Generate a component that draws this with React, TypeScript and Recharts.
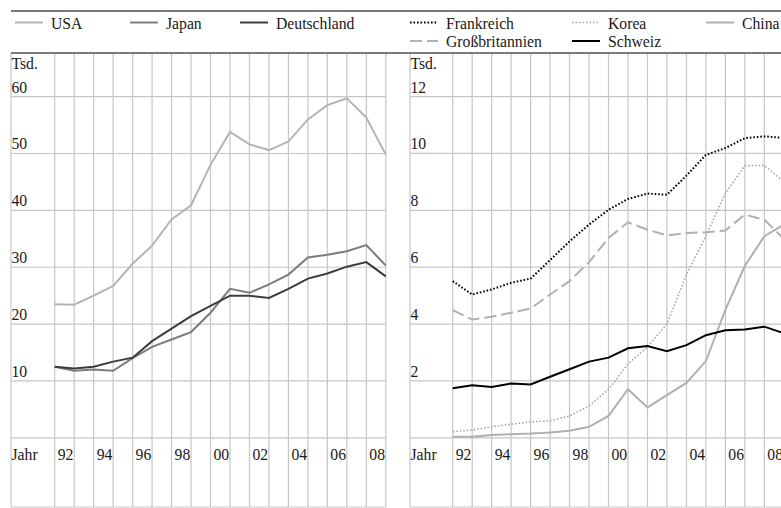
import { LineChart, Line, XAxis, YAxis, CartesianGrid } from "recharts";

// Jahre (letzter Punkt am rechten Rand)
const years = [1992, 1993, 1994, 1995, 1996, 1997, 1998, 1999, 2000, 2001, 2002, 2003, 2004, 2005, 2006, 2007, 2008, 2009];
const gridYears = [1992, 1993, 1994, 1995, 1996, 1997, 1998, 1999, 2000, 2001, 2002, 2003, 2004, 2005, 2006, 2007, 2008];

// linkes Feld, Tsd.
const usa = [23.5, 23.4, 25.0, 26.7, 30.6, 33.8, 38.4, 40.9, 48.0, 53.8, 51.6, 50.6, 52.1, 56.0, 58.5, 59.7, 56.3, 49.8];
const japan = [12.5, 11.8, 12.0, 11.8, 14.0, 16.0, 17.3, 18.6, 22.0, 26.2, 25.5, 27.0, 28.7, 31.7, 32.2, 32.8, 33.9, 30.3];
const deutschland = [12.5, 12.2, 12.5, 13.4, 14.1, 17.0, 19.2, 21.4, 23.2, 25.0, 25.0, 24.6, 26.2, 28.0, 28.9, 30.1, 30.9, 28.4];

// rechtes Feld, Tsd.
const frankreich = [5.51, 5.04, 5.22, 5.45, 5.6, 6.25, 6.91, 7.5, 8.02, 8.4, 8.59, 8.55, 9.22, 9.95, 10.19, 10.54, 10.6, 10.55];
const korea = [0.22, 0.27, 0.39, 0.48, 0.56, 0.6, 0.77, 1.12, 1.7, 2.6, 3.2, 4.0, 5.74, 7.1, 8.6, 9.57, 9.58, 9.0];
const china = [0.04, 0.04, 0.1, 0.13, 0.15, 0.19, 0.25, 0.39, 0.77, 1.71, 1.07, 1.5, 1.93, 2.7, 4.5, 6.05, 7.09, 7.5];
const grossbritannien = [4.49, 4.16, 4.26, 4.4, 4.55, 5.04, 5.51, 6.18, 7.03, 7.58, 7.32, 7.12, 7.2, 7.23, 7.29, 7.85, 7.67, 7.0];
const schweiz = [1.74, 1.85, 1.79, 1.91, 1.88, 2.15, 2.41, 2.68, 2.82, 3.15, 3.23, 3.05, 3.26, 3.61, 3.78, 3.81, 3.91, 3.68];

const leftTicks = [0, 10, 20, 30, 40, 50, 60];
const rightTicks = [0, 2, 4, 6, 8, 10, 12];

const FONT = "Liberation Serif";
const FS = 15.7;
const GRID = "#c6c6c6";

interface Series {
  key: string;
  name: string;
  color: string;
  width: number;
  dash?: string;
}

const leftSeries: Series[] = [
  { key: "usa", name: "USA", color: "#b4b4b4", width: 2 },
  { key: "japan", name: "Japan", color: "#7c7c7c", width: 2 },
  { key: "deutschland", name: "Deutschland", color: "#3c3c3c", width: 2 },
];

const rightSeries: Series[] = [
  { key: "frankreich", name: "Frankreich", color: "#000000", width: 2, dash: "1.6 1.9" },
  { key: "korea", name: "Korea", color: "#a8a8a8", width: 1.6, dash: "1.6 1.9" },
  { key: "china", name: "China", color: "#b0b0b0", width: 2 },
  { key: "grossbritannien", name: "Großbritannien", color: "#b0b0b0", width: 2, dash: "12 5" },
  { key: "schweiz", name: "Schweiz", color: "#000000", width: 2 },
];

const leftData = years.map((year, i) => ({ year, usa: usa[i], japan: japan[i], deutschland: deutschland[i] }));
const rightData = years.map((year, i) => ({
  year,
  frankreich: frankreich[i],
  korea: korea[i],
  china: china[i],
  grossbritannien: grossbritannien[i],
  schweiz: schweiz[i],
}));

interface PanelProps {
  data: any[];
  series: Series[];
  yTicks: number[];
  yDomain: [number, number];
  xDomain: [number, number];
  marginLeft: number;
  marginRight: number;
  left: number;
}

const Panel = ({ data, series, yTicks, yDomain, xDomain, marginLeft, marginRight, left }: PanelProps) => {
  const renderYTick = (props: any) => {
    const { y, payload, index } = props;
    if (payload.value === 0) return <g key={`y-${index}`} />;
    return (
      <text key={`y-${index}`} x={marginLeft + 0.5} y={y - 4} fontSize={FS} fontFamily={FONT} fill="#1a1a1a" textAnchor="start">
        {payload.value}
      </text>
    );
  };
  const renderXTick = (props: any) => {
    const { x, payload, index } = props;
    if (payload.value % 2 !== 0) return <g key={`x-${index}`} />;
    return (
      <text key={`x-${index}`} x={x + 3} y={460} fontSize={FS} fontFamily={FONT} fill="#1a1a1a" textAnchor="start">
        {String(payload.value).slice(2)}
      </text>
    );
  };
  return (
    <div style={{ position: "absolute", left, top: 0 }}>
      <LineChart width={400} height={508} data={data} margin={{ top: 53, right: marginRight, bottom: 0, left: marginLeft - 1 }}>
        <CartesianGrid stroke={GRID} strokeWidth={1.2} />
        <XAxis
          type="number"
          dataKey="year"
          domain={xDomain}
          ticks={gridYears}
          interval={0}
          height={1}
          axisLine={false}
          tickLine={false}
          tick={renderXTick}
        />
        <YAxis
          type="number"
          domain={yDomain}
          ticks={yTicks}
          interval={0}
          width={1}
          axisLine={false}
          tickLine={false}
          tick={renderYTick}
        />
        {series.map((s) => (
          <Line
            key={s.key}
            dataKey={s.key}
            stroke={s.color}
            strokeWidth={s.width}
            strokeDasharray={s.dash}
            dot={false}
            activeDot={false}
            isAnimationActive={false}
            type="linear"
          />
        ))}
        <text x={marginLeft + 0.5} y={69} fontSize={FS} fontFamily={FONT} fill="#1a1a1a">Tsd.</text>
        <text x={marginLeft + 0.5} y={460} fontSize={FS} fontFamily={FONT} fill="#1a1a1a">Jahr</text>
      </LineChart>
    </div>
  );
};

const LegendItem = ({ s, x, y }: { s: Series; x: number; y: number }) => (
  <g>
    <line x1={x} x2={x + 28} y1={y} y2={y} stroke={s.color} strokeWidth={s.width} strokeDasharray={s.dash} />
    <text x={x + 36} y={y + 6} fontSize={FS} fontFamily={FONT} fill="#1a1a1a">{s.name}</text>
  </g>
);

export default function App() {
  return (
    <div style={{ position: "relative", width: 781, height: 508, overflow: "hidden", background: "#fff", fontFamily: FONT }}>
      <style>{"body{margin:0}"}</style>
      <Panel
        data={leftData}
        series={leftSeries}
        yTicks={leftTicks}
        yDomain={[-12.16, 67.67]}
        xDomain={[1989.756, 2009]}
        marginLeft={11}
        marginRight={14.2}
        left={0}
      />
      <Panel
        data={rightData}
        series={rightSeries}
        yTicks={rightTicks}
        yDomain={[-2.432, 13.533]}
        xDomain={[1989.807, 2009]}
        marginLeft={12}
        marginRight={14.2}
        left={398}
      />
      <svg width={781} height={60} style={{ position: "absolute", left: 0, top: 0 }}>
        <line x1={11} x2={781} y1={11} y2={11} stroke="#7a7a7a" strokeWidth={2} />
        <line x1={11} x2={781} y1={53} y2={53} stroke="#7a7a7a" strokeWidth={2} />
        <LegendItem s={leftSeries[0]} x={15} y={22.5} />
        <LegendItem s={leftSeries[1]} x={130} y={22.5} />
        <LegendItem s={leftSeries[2]} x={240} y={22.5} />
        <LegendItem s={rightSeries[0]} x={410} y={22.5} />
        <LegendItem s={rightSeries[1]} x={572} y={22.5} />
        <LegendItem s={rightSeries[2]} x={706} y={22.5} />
        <LegendItem s={rightSeries[3]} x={410} y={41} />
        <LegendItem s={rightSeries[4]} x={572} y={41} />
      </svg>
    </div>
  );
}
